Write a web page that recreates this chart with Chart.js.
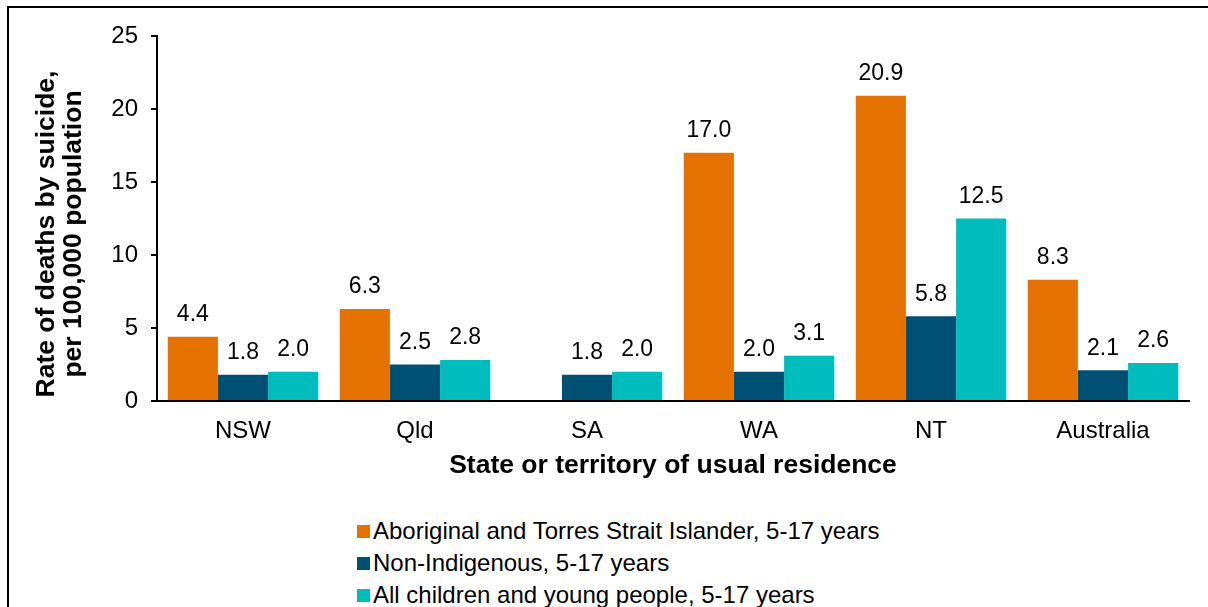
<!DOCTYPE html>
<html>
<head>
<meta charset="utf-8">
<script src="https://cdn.jsdelivr.net/npm/chart.js@4/dist/chart.umd.min.js"></script>
<style>
  body { margin: 0; background: #fff; font-family: "Liberation Sans", Arial, sans-serif; }
  #frame { position: absolute; left: 7px; top: 6px; width: 1215px; height: 620px;
           border-left: 2px solid #000; border-top: 2px solid #000; }
  #wrap { position: absolute; left: 0; top: 0; width: 1208px; height: 495px; }
  #ytitle { position: absolute; left: -138px; top: 204px; width: 400px; height: 60px;
            transform: rotate(-90deg); text-align: center; font-weight: bold;
            font-size: 26.5px; line-height: 27px; color: #000; white-space: nowrap; }
  #legend { position: absolute; left: 357px; top: 516px; list-style: none; margin: 0; padding: 0;
            font-size: 24px; color: #000; }
  #legend li { height: 32px; line-height: 30px; white-space: nowrap; }
  #legend span { display: inline-block; width: 13px; height: 13px; margin-right: 3px; vertical-align: 1px; }
</style>
</head>
<body>
<div id="frame"></div>
<div id="wrap"><canvas id="chart"></canvas></div>
<div id="ytitle"></div>
<ul id="legend"></ul>
<script>
// Categories and series
const categories = ['NSW', 'Qld', 'SA', 'WA', 'NT', 'Australia'];
const seriesNames = [
  'Aboriginal and Torres Strait Islander, 5-17 years',
  'Non-Indigenous, 5-17 years',
  'All children and young people, 5-17 years'
];
const indigenous = [4.4, 6.3, null, 17.0, 20.9, 8.3];
const nonIndigenous = [1.8, 2.5, 1.8, 2.0, 5.8, 2.1];
const allChildren = [2.0, 2.8, 2.0, 3.1, 12.5, 2.6];
const yTicks = [0, 5, 10, 15, 20, 25];
const yTitleLines = ['Rate of deaths by suicide,', 'per 100,000 population'];
const xTitle = 'State or territory of usual residence';
const colors = ['#E57200', '#005073', '#00BDBD'];

const FONT = '"Liberation Sans", Arial, sans-serif';

// Draw the value above each bar
const valueLabels = {
  id: 'valueLabels',
  afterDatasetsDraw(chart) {
    const ctx = chart.ctx;
    ctx.save();
    ctx.font = '23px ' + FONT;
    ctx.fillStyle = '#000';
    ctx.textAlign = 'center';
    ctx.textBaseline = 'middle';
    chart.data.datasets.forEach((ds, i) => {
      const meta = chart.getDatasetMeta(i);
      meta.data.forEach((bar, j) => {
        const v = ds.data[j];
        if (v === null || v === undefined) return;
        ctx.fillText(v.toFixed(1), bar.x, bar.y - 22);
      });
    });
    ctx.restore();
  }
};

const chart = new Chart(document.getElementById('chart'), {
  type: 'bar',
  data: {
    labels: categories,
    datasets: [
      { label: seriesNames[0], data: indigenous, backgroundColor: colors[0] },
      { label: seriesNames[1], data: nonIndigenous, backgroundColor: colors[1] },
      { label: seriesNames[2], data: allChildren, backgroundColor: colors[2] }
    ]
  },
  options: {
    responsive: true,
    maintainAspectRatio: false,
    animation: false,
    layout: { padding: { top: 36, right: 19, left: 0, bottom: 0 } },
    datasets: { bar: { categoryPercentage: 0.875, barPercentage: 1.0 } },
    plugins: {
      legend: { display: false },
      tooltip: { enabled: false }
    },
    scales: {
      x: {
        grid: { display: false, drawTicks: false },
        border: { color: '#000', width: 2 },
        ticks: { color: '#000', font: { family: FONT, size: 24 }, padding: 16 },
        title: {
          display: true,
          text: xTitle,
          color: '#000',
          font: { family: FONT, size: 26.5, weight: 'bold' },
          padding: { top: 0, bottom: 13 }
        },
        afterFit(scale) { scale.height = 94; }
      },
      y: {
        min: 0,
        max: 25,
        afterBuildTicks(scale) { scale.ticks = yTicks.map(v => ({ value: v })); },
        grid: { display: true, drawOnChartArea: false, drawTicks: true, tickLength: 6, color: '#000', lineWidth: 2 },
        border: { color: '#000', width: 2 },
        ticks: { color: '#000', font: { family: FONT, size: 24 }, padding: 13 },
        afterFit(scale) { scale.width = 157; }
      }
    }
  },
  plugins: [valueLabels]
});

// Y axis title, two lines rotated
document.getElementById('ytitle').innerHTML = yTitleLines.join('<br>');

// Vertical legend under the chart
const legendList = document.getElementById('legend');
seriesNames.forEach((name, i) => {
  const li = document.createElement('li');
  li.innerHTML = `<span style="background:${colors[i]}"></span>${name}`;
  legendList.appendChild(li);
});
</script>
</body>
</html>
